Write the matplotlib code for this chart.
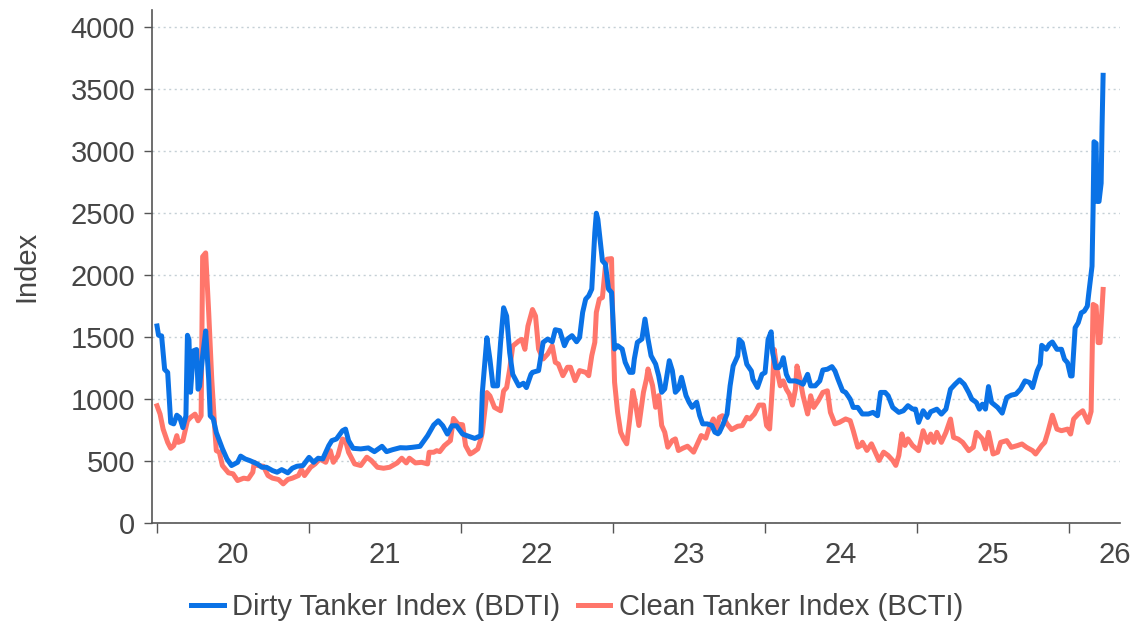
import matplotlib
matplotlib.use("Agg")
import matplotlib.pyplot as plt

plt.rcParams["font.family"] = ["Liberation Sans", "DejaVu Sans"]

# Baltic Dirty Tanker Index, x in decimal years
bdti_t = [
    2020.00, 2020.01, 2020.03, 2020.05, 2020.07, 2020.09, 2020.11, 2020.13, 2020.15, 2020.17,
    2020.19, 2020.20, 2020.21, 2020.22, 2020.24, 2020.26, 2020.27, 2020.28, 2020.30, 2020.32,
    2020.34, 2020.35, 2020.37, 2020.39, 2020.43, 2020.46, 2020.49, 2020.53, 2020.55, 2020.58,
    2020.61, 2020.66, 2020.69, 2020.72, 2020.76, 2020.79, 2020.82, 2020.86, 2020.89, 2020.92,
    2020.96, 2021.00, 2021.03, 2021.06, 2021.09, 2021.13, 2021.15, 2021.18, 2021.22, 2021.24,
    2021.26, 2021.29, 2021.34, 2021.39, 2021.43, 2021.48, 2021.51, 2021.55, 2021.60, 2021.64,
    2021.68, 2021.73, 2021.78, 2021.82, 2021.85, 2021.88, 2021.91, 2021.94, 2021.97, 2022.01,
    2022.05, 2022.09, 2022.13, 2022.14, 2022.17, 2022.19, 2022.21, 2022.24, 2022.26, 2022.28,
    2022.30, 2022.32, 2022.34, 2022.38, 2022.41, 2022.43, 2022.46, 2022.47, 2022.51, 2022.54,
    2022.57, 2022.60, 2022.62, 2022.65, 2022.68, 2022.70, 2022.73, 2022.76, 2022.78, 2022.80,
    2022.82, 2022.84, 2022.86, 2022.88, 2022.89, 2022.90, 2022.93, 2022.95, 2022.97, 2022.99,
    2023.01, 2023.03, 2023.06, 2023.08, 2023.11, 2023.13, 2023.14, 2023.16, 2023.19, 2023.21,
    2023.23, 2023.25, 2023.28, 2023.30, 2023.32, 2023.34, 2023.37, 2023.39, 2023.41, 2023.43,
    2023.45, 2023.48, 2023.50, 2023.52, 2023.55, 2023.57, 2023.59, 2023.62, 2023.65, 2023.67,
    2023.69, 2023.70, 2023.72, 2023.75, 2023.77, 2023.79, 2023.82, 2023.83, 2023.85, 2023.88,
    2023.91, 2023.92, 2023.95, 2023.98, 2024.00, 2024.02, 2024.04, 2024.05, 2024.07, 2024.09,
    2024.11, 2024.12, 2024.14, 2024.16, 2024.20, 2024.23, 2024.25, 2024.28, 2024.30, 2024.33,
    2024.36, 2024.38, 2024.41, 2024.44, 2024.46, 2024.48, 2024.51, 2024.53, 2024.56, 2024.58,
    2024.61, 2024.64, 2024.68, 2024.71, 2024.74, 2024.76, 2024.79, 2024.81, 2024.84, 2024.88,
    2024.91, 2024.94, 2024.97, 2024.99, 2025.01, 2025.04, 2025.07, 2025.09, 2025.13, 2025.16,
    2025.19, 2025.22, 2025.25, 2025.28, 2025.31, 2025.34, 2025.36, 2025.39, 2025.41, 2025.43,
    2025.45, 2025.47, 2025.49, 2025.53, 2025.56, 2025.59, 2025.62, 2025.65, 2025.68, 2025.71,
    2025.74, 2025.76, 2025.79, 2025.81, 2025.82, 2025.85, 2025.87, 2025.89, 2025.92, 2025.95,
    2025.97, 2025.99, 2026.01, 2026.02, 2026.04, 2026.06, 2026.08, 2026.10, 2026.12, 2026.13,
    2026.151, 2026.158, 2026.164, 2026.178, 2026.184, 2026.197, 2026.211, 2026.217, 2026.224,
]
bdti = [
    1590, 1515, 1510, 1240, 1215, 810, 800, 870, 850, 770,
    865, 1515, 1480, 1055, 1390, 1400, 1080, 1105, 1350, 1550,
    1160, 865, 840, 730, 600, 517, 464, 490, 540, 517,
    504, 477, 450, 450, 423, 410, 431, 405, 442, 458,
    464, 530, 490, 523, 517, 625, 665, 678, 745, 758,
    665, 603, 598, 606, 576, 619, 576, 592, 608, 606,
    611, 619, 705, 791, 825, 785, 718, 785, 785, 718,
    700, 683, 705, 1053, 1495, 1321, 1107, 1107, 1455, 1737,
    1670, 1375, 1200, 1107, 1128, 1093, 1200, 1216, 1230, 1458,
    1485, 1463, 1560, 1552, 1431, 1485, 1512, 1463, 1498, 1700,
    1807, 1834, 1888, 2344, 2500, 2451, 2116, 2089, 1888, 1861,
    1404, 1431, 1404, 1297, 1216, 1216, 1324, 1458, 1485, 1646,
    1485, 1350, 1283, 1189, 1055, 1082, 1310, 1230, 1055, 1082,
    1176, 1028, 975, 934, 975, 867, 800, 800, 787, 733,
    720, 733, 786, 880, 1107, 1267, 1348, 1481, 1455, 1281,
    1227, 1160, 1094, 1200, 1214, 1481, 1543, 1374, 1254, 1254,
    1294, 1334, 1200, 1147, 1147, 1134, 1120, 1200, 1107, 1107,
    1147, 1235, 1241, 1262, 1227, 1160, 1067, 1054, 1000, 933,
    933, 880, 880, 893, 866, 1054, 1054, 1027, 933, 893,
    906, 947, 920, 919, 812, 906, 852, 898, 919, 879,
    919, 1080, 1120, 1155, 1120, 1053, 1000, 973, 919, 959,
    919, 1101, 973, 933, 887, 1013, 1032, 1040, 1080, 1147,
    1134, 1093, 1227, 1281, 1434, 1402, 1442, 1461, 1402, 1402,
    1321, 1294, 1187, 1187, 1576, 1616, 1696, 1710, 1750, 1858,
    2072, 2528, 3077, 3064, 2595, 2595, 2742, 3198, 3613,
]

# Baltic Clean Tanker Index
bcti_t = [
    2020.00, 2020.02, 2020.04, 2020.07, 2020.09, 2020.11, 2020.13, 2020.14, 2020.17, 2020.20,
    2020.22, 2020.25, 2020.27, 2020.29, 2020.30, 2020.32, 2020.34, 2020.36, 2020.38, 2020.39,
    2020.41, 2020.43, 2020.47, 2020.50, 2020.53, 2020.57, 2020.60, 2020.63, 2020.64, 2020.66,
    2020.70, 2020.73, 2020.76, 2020.80, 2020.83, 2020.86, 2020.89, 2020.93, 2020.95, 2020.97,
    2021.01, 2021.04, 2021.07, 2021.11, 2021.14, 2021.16, 2021.19, 2021.22, 2021.24, 2021.26,
    2021.30, 2021.34, 2021.38, 2021.41, 2021.45, 2021.49, 2021.53, 2021.58, 2021.61, 2021.64,
    2021.66, 2021.70, 2021.74, 2021.78, 2021.79, 2021.82, 2021.84, 2021.86, 2021.89, 2021.93,
    2021.95, 2021.98, 2022.01, 2022.03, 2022.06, 2022.08, 2022.11, 2022.13, 2022.14, 2022.17,
    2022.19, 2022.22, 2022.26, 2022.28, 2022.30, 2022.32, 2022.34, 2022.38, 2022.40, 2022.42,
    2022.44, 2022.47, 2022.49, 2022.51, 2022.54, 2022.57, 2022.60, 2022.62, 2022.64, 2022.67,
    2022.70, 2022.72, 2022.75, 2022.78, 2022.82, 2022.84, 2022.86, 2022.88, 2022.89, 2022.91,
    2022.93, 2022.95, 2022.96, 2022.99, 2023.00, 2023.01, 2023.03, 2023.05, 2023.07, 2023.09,
    2023.11, 2023.13, 2023.15, 2023.17, 2023.20, 2023.22, 2023.23, 2023.26, 2023.28, 2023.30,
    2023.32, 2023.34, 2023.36, 2023.39, 2023.41, 2023.43, 2023.46, 2023.49, 2023.53, 2023.55,
    2023.58, 2023.61, 2023.63, 2023.66, 2023.68, 2023.70, 2023.72, 2023.75, 2023.78, 2023.82,
    2023.85, 2023.88, 2023.90, 2023.93, 2023.96, 2023.99, 2024.01, 2024.03, 2024.05, 2024.06,
    2024.08, 2024.10, 2024.12, 2024.14, 2024.16, 2024.18, 2024.20, 2024.21, 2024.23, 2024.25,
    2024.28, 2024.30, 2024.32, 2024.35, 2024.38, 2024.41, 2024.43, 2024.46, 2024.49, 2024.53,
    2024.56, 2024.58, 2024.61, 2024.63, 2024.64, 2024.67, 2024.70, 2024.72, 2024.75, 2024.78,
    2024.81, 2024.84, 2024.86, 2024.88, 2024.90, 2024.92, 2024.94, 2024.97, 2025.01, 2025.04,
    2025.07, 2025.09, 2025.11, 2025.13, 2025.16, 2025.19, 2025.22, 2025.24, 2025.27, 2025.30,
    2025.34, 2025.37, 2025.39, 2025.43, 2025.45, 2025.47, 2025.50, 2025.53, 2025.55, 2025.59,
    2025.62, 2025.66, 2025.69, 2025.72, 2025.76, 2025.78, 2025.82, 2025.84, 2025.86, 2025.89,
    2025.92, 2025.95, 2025.99, 2026.01, 2026.03, 2026.06, 2026.09, 2026.125, 2026.145, 2026.158,
    2026.178, 2026.191, 2026.204, 2026.224,
]
bcti = [
    946, 879, 758, 651, 603, 624, 705, 651, 665, 825,
    852, 879, 825, 866, 2150, 2180, 1696, 1160, 758, 584,
    571, 464, 405, 397, 343, 362, 356, 410, 490, 464,
    458, 383, 362, 351, 316, 351, 362, 383, 431, 383,
    450, 477, 517, 490, 584, 490, 544, 678, 665, 571,
    477, 464, 531, 504, 450, 442, 450, 485, 523, 485,
    523, 485, 490, 477, 571, 571, 584, 576, 624, 665,
    844, 798, 793, 624, 557, 571, 598, 678, 732, 1053,
    1026, 933, 906, 1066, 1093, 1241, 1428, 1469, 1482, 1402,
    1589, 1723, 1670, 1404, 1324, 1364, 1431, 1297, 1283, 1189,
    1257, 1257, 1149, 1230, 1216, 1189, 1351, 1458, 1700, 1807,
    1820, 2075, 2129, 2134, 1539, 1136, 894, 733, 679, 639,
    840, 1069, 948, 787, 1055, 1163, 1243, 1109, 934, 1028,
    787, 733, 612, 666, 679, 585, 604, 620, 572, 626,
    706, 685, 760, 840, 760, 853, 866, 800, 754, 781,
    786, 853, 840, 880, 952, 952, 786, 759, 1134, 1401,
    1227, 1107, 1147, 1080, 1040, 952, 1080, 1267, 1160, 1027,
    880, 1027, 933, 987, 1054, 1067, 893, 800, 813, 840,
    826, 746, 612, 626, 652, 586, 639, 586, 505, 572,
    545, 505, 465, 545, 719, 626, 679, 626, 584, 745,
    651, 718, 651, 732, 651, 732, 839, 691, 678, 651,
    584, 611, 732, 678, 598, 732, 557, 571, 651, 665,
    611, 625, 638, 611, 584, 557, 625, 651, 732, 870,
    758, 745, 758, 718, 839, 879, 906, 812, 900, 1764,
    1750, 1456, 1456, 1885,
]

years = [2020, 2021, 2022, 2023, 2024, 2025, 2026]
year_labels = ["20", "21", "22", "23", "24", "25", "26"]
label_pos = [2020.5, 2021.5, 2022.5, 2023.5, 2024.5, 2025.5, 2026.3]

BLUE = "#0a72e6"
RED = "#ff766b"
TXT = "#454545"

fig = plt.figure(figsize=(11.43, 6.26), dpi=100)
ax = fig.add_axes([0.133, 0.1645, 0.847, 0.8195])

ax.plot(bdti_t, bdti, color=BLUE, lw=3.6, solid_joinstyle="round",
        label="Dirty Tanker Index (BDTI)", zorder=3)
ax.plot(bcti_t, bcti, color=RED, lw=3.6, solid_joinstyle="round",
        label="Clean Tanker Index (BCTI)", zorder=2)

ax.set_xlim(2019.967, 2026.336)
ax.set_ylim(0, 4140)
ax.set_yticks(range(0, 4001, 500))
ax.set_xticks(years)
ax.set_xticklabels([])
ax.set_xticks(label_pos, minor=True)
ax.set_xticklabels(year_labels, minor=True)
ax.tick_params(axis="x", which="major", length=7, width=1, color="#555555")
ax.tick_params(axis="x", which="minor", length=0, pad=13, labelsize=21, labelcolor=TXT)
ax.tick_params(axis="y", length=6, width=1, color="#555555", labelsize=21,
               labelcolor=TXT, pad=6)

ax.grid(axis="y", color="#c5d0d6", linestyle=(0, (1.5, 2.5)), lw=1)
ax.set_axisbelow(True)
for s in ["top", "right"]:
    ax.spines[s].set_visible(False)
for s in ["left", "bottom"]:
    ax.spines[s].set_color("#555555")
    ax.spines[s].set_linewidth(1.2)

ax.set_ylabel("Index", fontsize=21, color=TXT, labelpad=22)

fig.legend(loc="center", bbox_to_anchor=(0.505, 0.03), ncol=2, frameon=False,
           fontsize=21, handlelength=1.1, handletextpad=0.3, columnspacing=0.6,
           labelcolor=TXT)

fig.savefig("out.png", dpi=100)
